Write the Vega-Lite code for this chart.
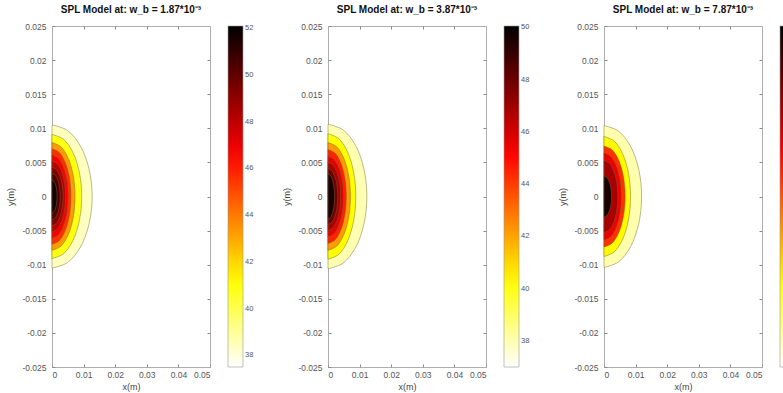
{
"$schema":"https://vega.github.io/schema/vega-lite/v6.json",
"background":"white",
"padding":{"left":6,"top":5,"right":0,"bottom":0},
"spacing":28,
"config":{
 "view":{"stroke":null},
 "axis":{"domainColor":"#999","domainWidth":0.8,"tickColor":"#888","tickSize":-3,"labelColor":"#555","labelFont":"Liberation Sans","labelFontSize":8.5,"titleFont":"Liberation Sans","titleFontSize":9,"titleColor":"#444","titleFontWeight":"normal","grid":false},
 "axisY":{"labelPadding":9,"titlePadding":6},
 "axisX":{"labelPadding":6,"titlePadding":4},
 "legend":{"gradientLength":341,"gradientThickness":15,"gradientStrokeColor":"#999","gradientStrokeWidth":0.6,"labelFont":"Liberation Sans","labelFontSize":7.5,"labelColor":"#555","labelOverlap":false,"offset":17,"padding":0,"title":null},
 "title":{"font":"Liberation Sans","fontSize":10,"fontWeight":"bold","color":"#111","offset":7}
},
"datasets":{
"p1":[
{"l":38.4,"x":0,"y":-0.0105},{"l":38.4,"x":0.00486,"y":-0.0097},{"l":38.4,"x":0.00898,"y":-0.00742},{"l":38.4,"x":0.01173,"y":-0.00402},{"l":38.4,"x":0.0127,"y":0},{"l":38.4,"x":0.01173,"y":0.00402},{"l":38.4,"x":0.00898,"y":0.00742},{"l":38.4,"x":0.00486,"y":0.0097},{"l":38.4,"x":0,"y":0.0105},
{"l":40.9,"x":0,"y":-0.0091},{"l":40.9,"x":0.0036,"y":-0.00841},{"l":40.9,"x":0.00665,"y":-0.00643},{"l":40.9,"x":0.00868,"y":-0.00348},{"l":40.9,"x":0.0094,"y":0},{"l":40.9,"x":0.00868,"y":0.00348},{"l":40.9,"x":0.00665,"y":0.00643},{"l":40.9,"x":0.0036,"y":0.00841},{"l":40.9,"x":0,"y":0.0091},
{"l":43.3,"x":0,"y":-0.0079},{"l":43.3,"x":0.00279,"y":-0.0073},{"l":43.3,"x":0.00516,"y":-0.00559},{"l":43.3,"x":0.00674,"y":-0.00302},{"l":43.3,"x":0.0073,"y":0},{"l":43.3,"x":0.00674,"y":0.00302},{"l":43.3,"x":0.00516,"y":0.00559},{"l":43.3,"x":0.00279,"y":0.0073},{"l":43.3,"x":0,"y":0.0079},
{"l":45.6,"x":0,"y":-0.007},{"l":45.6,"x":0.0023,"y":-0.00647},{"l":45.6,"x":0.00424,"y":-0.00495},{"l":45.6,"x":0.00554,"y":-0.00268},{"l":45.6,"x":0.006,"y":0},{"l":45.6,"x":0.00554,"y":0.00268},{"l":45.6,"x":0.00424,"y":0.00495},{"l":45.6,"x":0.0023,"y":0.00647},{"l":45.6,"x":0,"y":0.007},
{"l":46.8,"x":0,"y":-0.0061},{"l":46.8,"x":0.00195,"y":-0.00564},{"l":46.8,"x":0.00361,"y":-0.00431},{"l":46.8,"x":0.00471,"y":-0.00233},{"l":46.8,"x":0.0051,"y":0},{"l":46.8,"x":0.00471,"y":0.00233},{"l":46.8,"x":0.00361,"y":0.00431},{"l":46.8,"x":0.00195,"y":0.00564},{"l":46.8,"x":0,"y":0.0061},
{"l":48.0,"x":0,"y":-0.0052},{"l":48.0,"x":0.00165,"y":-0.0048},{"l":48.0,"x":0.00304,"y":-0.00368},{"l":48.0,"x":0.00397,"y":-0.00199},{"l":48.0,"x":0.0043,"y":0},{"l":48.0,"x":0.00397,"y":0.00199},{"l":48.0,"x":0.00304,"y":0.00368},{"l":48.0,"x":0.00165,"y":0.0048},{"l":48.0,"x":0,"y":0.0052},
{"l":49.2,"x":0,"y":-0.0043},{"l":49.2,"x":0.00134,"y":-0.00397},{"l":49.2,"x":0.00247,"y":-0.00304},{"l":49.2,"x":0.00323,"y":-0.00165},{"l":49.2,"x":0.0035,"y":0},{"l":49.2,"x":0.00323,"y":0.00165},{"l":49.2,"x":0.00247,"y":0.00304},{"l":49.2,"x":0.00134,"y":0.00397},{"l":49.2,"x":0,"y":0.0043},
{"l":50.4,"x":0,"y":-0.0034},{"l":50.4,"x":0.001,"y":-0.00314},{"l":50.4,"x":0.00184,"y":-0.0024},{"l":50.4,"x":0.0024,"y":-0.0013},{"l":50.4,"x":0.0026,"y":0},{"l":50.4,"x":0.0024,"y":0.0013},{"l":50.4,"x":0.00184,"y":0.0024},{"l":50.4,"x":0.001,"y":0.00314},{"l":50.4,"x":0,"y":0.0034},
{"l":51.6,"x":0,"y":-0.0024},{"l":51.6,"x":0.00061,"y":-0.00222},{"l":51.6,"x":0.00113,"y":-0.0017},{"l":51.6,"x":0.00148,"y":-0.00092},{"l":51.6,"x":0.0016,"y":0},{"l":51.6,"x":0.00148,"y":0.00092},{"l":51.6,"x":0.00113,"y":0.0017},{"l":51.6,"x":0.00061,"y":0.00222},{"l":51.6,"x":0,"y":0.0024}
],
"p2":[
{"l":38.0,"x":0,"y":-0.0106},{"l":38.0,"x":0.00471,"y":-0.00979},{"l":38.0,"x":0.0087,"y":-0.0075},{"l":38.0,"x":0.01136,"y":-0.00406},{"l":38.0,"x":0.0123,"y":0},{"l":38.0,"x":0.01136,"y":0.00406},{"l":38.0,"x":0.0087,"y":0.0075},{"l":38.0,"x":0.00471,"y":0.00979},{"l":38.0,"x":0,"y":0.0106},
{"l":40.3,"x":0,"y":-0.0092},{"l":40.3,"x":0.00337,"y":-0.0085},{"l":40.3,"x":0.00622,"y":-0.00651},{"l":40.3,"x":0.00813,"y":-0.00352},{"l":40.3,"x":0.0088,"y":0},{"l":40.3,"x":0.00813,"y":0.00352},{"l":40.3,"x":0.00622,"y":0.00651},{"l":40.3,"x":0.00337,"y":0.0085},{"l":40.3,"x":0,"y":0.0092},
{"l":42.2,"x":0,"y":-0.0079},{"l":42.2,"x":0.00272,"y":-0.0073},{"l":42.2,"x":0.00502,"y":-0.00559},{"l":42.2,"x":0.00656,"y":-0.00302},{"l":42.2,"x":0.0071,"y":0},{"l":42.2,"x":0.00656,"y":0.00302},{"l":42.2,"x":0.00502,"y":0.00559},{"l":42.2,"x":0.00272,"y":0.0073},{"l":42.2,"x":0,"y":0.0079},
{"l":44.5,"x":0,"y":-0.0069},{"l":44.5,"x":0.00222,"y":-0.00637},{"l":44.5,"x":0.0041,"y":-0.00488},{"l":44.5,"x":0.00536,"y":-0.00264},{"l":44.5,"x":0.0058,"y":0},{"l":44.5,"x":0.00536,"y":0.00264},{"l":44.5,"x":0.0041,"y":0.00488},{"l":44.5,"x":0.00222,"y":0.00637},{"l":44.5,"x":0,"y":0.0069},
{"l":45.7,"x":0,"y":-0.0059},{"l":45.7,"x":0.00188,"y":-0.00545},{"l":45.7,"x":0.00346,"y":-0.00417},{"l":45.7,"x":0.00453,"y":-0.00226},{"l":45.7,"x":0.0049,"y":0},{"l":45.7,"x":0.00453,"y":0.00226},{"l":45.7,"x":0.00346,"y":0.00417},{"l":45.7,"x":0.00188,"y":0.00545},{"l":45.7,"x":0,"y":0.0059},
{"l":46.8,"x":0,"y":-0.005},{"l":46.8,"x":0.00153,"y":-0.00462},{"l":46.8,"x":0.00283,"y":-0.00354},{"l":46.8,"x":0.0037,"y":-0.00191},{"l":46.8,"x":0.004,"y":0},{"l":46.8,"x":0.0037,"y":0.00191},{"l":46.8,"x":0.00283,"y":0.00354},{"l":46.8,"x":0.00153,"y":0.00462},{"l":46.8,"x":0,"y":0.005},
{"l":47.9,"x":0,"y":-0.0041},{"l":47.9,"x":0.00119,"y":-0.00379},{"l":47.9,"x":0.00219,"y":-0.0029},{"l":47.9,"x":0.00286,"y":-0.00157},{"l":47.9,"x":0.0031,"y":0},{"l":47.9,"x":0.00286,"y":0.00157},{"l":47.9,"x":0.00219,"y":0.0029},{"l":47.9,"x":0.00119,"y":0.00379},{"l":47.9,"x":0,"y":0.0041},
{"l":49.5,"x":0,"y":-0.0033},{"l":49.5,"x":0.0008,"y":-0.00305},{"l":49.5,"x":0.00148,"y":-0.00233},{"l":49.5,"x":0.00194,"y":-0.00126},{"l":49.5,"x":0.0021,"y":0},{"l":49.5,"x":0.00194,"y":0.00126},{"l":49.5,"x":0.00148,"y":0.00233},{"l":49.5,"x":0.0008,"y":0.00305},{"l":49.5,"x":0,"y":0.0033}
],
"p3":[
{"l":38.0,"x":0,"y":-0.0104},{"l":38.0,"x":0.00455,"y":-0.00961},{"l":38.0,"x":0.00841,"y":-0.00735},{"l":38.0,"x":0.01099,"y":-0.00398},{"l":38.0,"x":0.0119,"y":0},{"l":38.0,"x":0.01099,"y":0.00398},{"l":38.0,"x":0.00841,"y":0.00735},{"l":38.0,"x":0.00455,"y":0.00961},{"l":38.0,"x":0,"y":0.0104},
{"l":40.2,"x":0,"y":-0.0088},{"l":40.2,"x":0.00321,"y":-0.00813},{"l":40.2,"x":0.00594,"y":-0.00622},{"l":40.2,"x":0.00776,"y":-0.00337},{"l":40.2,"x":0.0084,"y":0},{"l":40.2,"x":0.00776,"y":0.00337},{"l":40.2,"x":0.00594,"y":0.00622},{"l":40.2,"x":0.00321,"y":0.00813},{"l":40.2,"x":0,"y":0.0088},
{"l":43.9,"x":0,"y":-0.0074},{"l":43.9,"x":0.00256,"y":-0.00684},{"l":43.9,"x":0.00474,"y":-0.00523},{"l":43.9,"x":0.00619,"y":-0.00283},{"l":43.9,"x":0.0067,"y":0},{"l":43.9,"x":0.00619,"y":0.00283},{"l":43.9,"x":0.00474,"y":0.00523},{"l":43.9,"x":0.00256,"y":0.00684},{"l":43.9,"x":0,"y":0.0074},
{"l":45.1,"x":0,"y":-0.0064},{"l":45.1,"x":0.0021,"y":-0.00591},{"l":45.1,"x":0.00389,"y":-0.00453},{"l":45.1,"x":0.00508,"y":-0.00245},{"l":45.1,"x":0.0055,"y":0},{"l":45.1,"x":0.00508,"y":0.00245},{"l":45.1,"x":0.00389,"y":0.00453},{"l":45.1,"x":0.0021,"y":0.00591},{"l":45.1,"x":0,"y":0.0064},
{"l":46.4,"x":0,"y":-0.0053},{"l":46.4,"x":0.00168,"y":-0.0049},{"l":46.4,"x":0.00311,"y":-0.00375},{"l":46.4,"x":0.00407,"y":-0.00203},{"l":46.4,"x":0.0044,"y":0},{"l":46.4,"x":0.00407,"y":0.00203},{"l":46.4,"x":0.00311,"y":0.00375},{"l":46.4,"x":0.00168,"y":0.0049},{"l":46.4,"x":0,"y":0.0053},
{"l":49.0,"x":0,"y":-0.003},{"l":49.0,"x":0.00092,"y":-0.00277},{"l":49.0,"x":0.0017,"y":-0.00212},{"l":49.0,"x":0.00222,"y":-0.00115},{"l":49.0,"x":0.0024,"y":0},{"l":49.0,"x":0.00222,"y":0.00115},{"l":49.0,"x":0.0017,"y":0.00212},{"l":49.0,"x":0.00092,"y":0.00277},{"l":49.0,"x":0,"y":0.003}
]
},
"hconcat":[
{
 "width":158,"height":341,
 "title":"SPL Model at: w_b = 1.87*10⁻³",
 "data":{"name":"p1"},
 "layer":[
  {"mark":{"type":"area","orient":"horizontal","interpolate":"catmull-rom","stroke":"#6b6b3a","strokeWidth":0.6,"strokeOpacity":0.8},
   "encoding":{
    "y":{"field":"y","type":"quantitative","scale":{"domain":[-0.025,0.025],"nice":false,"zero":false},"axis":{"title":"y(m)","values":[-0.025,-0.02,-0.015,-0.01,-0.005,0,0.005,0.01,0.015,0.02,0.025],"labelExpr":"''+datum.value"}},
    "x":{"field":"x","type":"quantitative","stack":null,"scale":{"domain":[0,0.05],"nice":false},"axis":{"title":"x(m)","values":[0,0.01,0.02,0.03,0.04,0.05],"labelExpr":"''+datum.value"}},
    "detail":{"field":"l"},
    "color":{"field":"l","type":"quantitative","scale":{"domain":[37.5,41.15,46.6,52.1],"range":["#ffffff","#ffff00","#ff0000","#000000"],"interpolate":"rgb"},"legend":{"values":[38,40,42,44,46,48,50,52]}}
   }},
  {"mark":{"type":"point","opacity":0},
   "encoding":{
    "y":{"field":"y","type":"quantitative","axis":{"orient":"right","labels":false,"title":null,"values":[-0.02,-0.015,-0.01,-0.005,0,0.005,0.01,0.015,0.02]}},
    "x":{"field":"x","type":"quantitative","axis":{"orient":"top","labels":false,"title":null,"values":[0.01,0.02,0.03,0.04]}}
   }}
 ],
 "resolve":{"axis":{"x":"independent","y":"independent"}}
},
{
 "width":158,"height":341,
 "title":"SPL Model at: w_b = 3.87*10⁻³",
 "data":{"name":"p2"},
 "layer":[
  {"mark":{"type":"area","orient":"horizontal","interpolate":"catmull-rom","stroke":"#6b6b3a","strokeWidth":0.6,"strokeOpacity":0.8},
   "encoding":{
    "y":{"field":"y","type":"quantitative","scale":{"domain":[-0.025,0.025],"nice":false,"zero":false},"axis":{"title":"y(m)","values":[-0.025,-0.02,-0.015,-0.01,-0.005,0,0.005,0.01,0.015,0.02,0.025],"labelExpr":"''+datum.value"}},
    "x":{"field":"x","type":"quantitative","stack":null,"scale":{"domain":[0,0.05],"nice":false},"axis":{"title":"x(m)","values":[0,0.01,0.02,0.03,0.04,0.05],"labelExpr":"''+datum.value"}},
    "detail":{"field":"l"},
    "color":{"field":"l","type":"quantitative","scale":{"domain":[37,40.26,45.16,50.05],"range":["#ffffff","#ffff00","#ff0000","#000000"],"interpolate":"rgb"},"legend":{"values":[38,40,42,44,46,48,50]}}
   }},
  {"mark":{"type":"point","opacity":0},
   "encoding":{
    "y":{"field":"y","type":"quantitative","axis":{"orient":"right","labels":false,"title":null,"values":[-0.02,-0.015,-0.01,-0.005,0,0.005,0.01,0.015,0.02]}},
    "x":{"field":"x","type":"quantitative","axis":{"orient":"top","labels":false,"title":null,"values":[0.01,0.02,0.03,0.04]}}
   }}
 ],
 "resolve":{"axis":{"x":"independent","y":"independent"}}
},
{
 "width":158,"height":341,
 "title":"SPL Model at: w_b = 7.87*10⁻³",
 "data":{"name":"p3"},
 "layer":[
  {"mark":{"type":"area","orient":"horizontal","interpolate":"catmull-rom","stroke":"#6b6b3a","strokeWidth":0.6,"strokeOpacity":0.8},
   "encoding":{
    "y":{"field":"y","type":"quantitative","scale":{"domain":[-0.025,0.025],"nice":false,"zero":false},"axis":{"title":"y(m)","values":[-0.025,-0.02,-0.015,-0.01,-0.005,0,0.005,0.01,0.015,0.02,0.025],"labelExpr":"''+datum.value"}},
    "x":{"field":"x","type":"quantitative","stack":null,"scale":{"domain":[0,0.05],"nice":false},"axis":{"title":"x(m)","values":[0,0.01,0.02,0.03,0.04,0.05],"labelExpr":"''+datum.value"}},
    "detail":{"field":"l"},
    "color":{"field":"l","type":"quantitative","scale":{"domain":[37,40.1,44.8,49.5],"range":["#ffffff","#ffff00","#ff0000","#000000"],"interpolate":"rgb"},"legend":{"values":[38,40,42,44,46,48]}}
   }},
  {"mark":{"type":"point","opacity":0},
   "encoding":{
    "y":{"field":"y","type":"quantitative","axis":{"orient":"right","labels":false,"title":null,"values":[-0.02,-0.015,-0.01,-0.005,0,0.005,0.01,0.015,0.02]}},
    "x":{"field":"x","type":"quantitative","axis":{"orient":"top","labels":false,"title":null,"values":[0.01,0.02,0.03,0.04]}}
   }}
 ],
 "resolve":{"axis":{"x":"independent","y":"independent"}}
}
],
"resolve":{"scale":{"color":"independent"}}
}
